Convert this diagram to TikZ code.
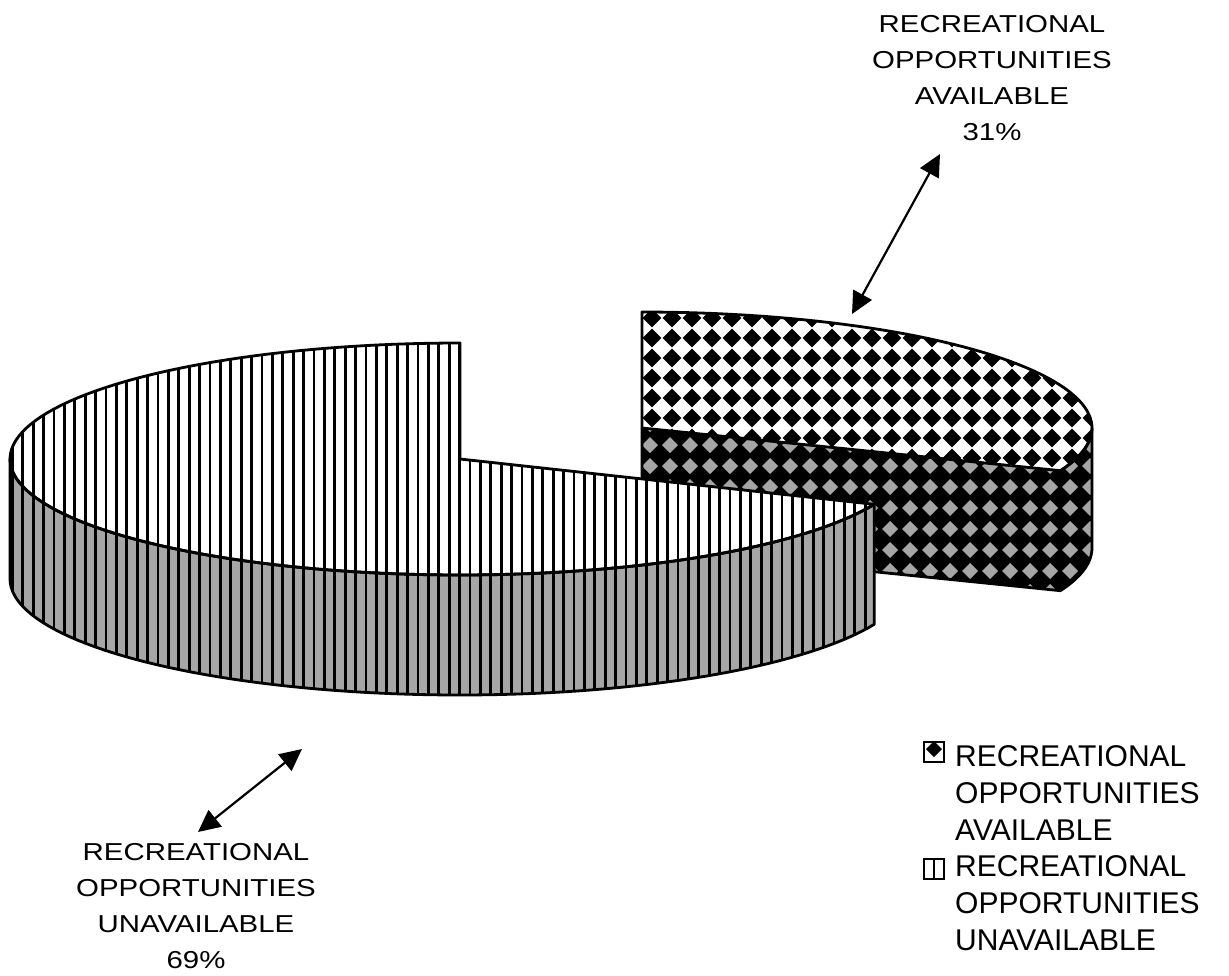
\documentclass[tikz,border=0pt]{standalone}
\usepackage{fontspec}
\setmainfont{Liberation Sans}
\usetikzlibrary{arrows.meta}

% pie geometry, in image pixels (y runs downwards)
\newcommand{\bigx}{460}   % centre of the 69% slice
\newcommand{\bigy}{459}
\newcommand{\smlx}{642}   % centre of the pulled-out 31% slice
\newcommand{\smly}{428}
\newcommand{\pierx}{450}
\newcommand{\piery}{116}
\newcommand{\pieh}{120}

\begin{document}
\begin{tikzpicture}[
    x=1pt, y=-1pt,
    outline/.style={draw=black, line width=2.8pt, line join=round},
    stripe/.style={draw=black, line width=2.8pt},
    pctlabel/.style={align=center, inner sep=0pt, xscale=1.2,
        font=\fontsize{24.5}{36}\selectfont},
    legendtext/.style={align=left, inner sep=0pt, anchor=base west,
        font=\fontsize{30}{36.7}\selectfont},
    legendbox/.style={draw, line width=2pt, minimum size=20pt,
        inner sep=0pt, fill=white},
    keyavail/.style={legendbox, path picture={
        \fill[black] ([yshift=3pt]path picture bounding box.center)
            +(-8,0) -- +(0,-8) -- +(8,0) -- +(0,8) -- cycle;}},
    keyunavail/.style={legendbox, path picture={
        \draw[black, line width=2pt] (path picture bounding box.north)
            -- (path picture bounding box.south);}},
    leader/.style={{Triangle[length=22pt,width=21pt]}-{Triangle[length=22pt,width=21pt]},
        line width=2.2pt},
]
\useasboundingbox (0,0) rectangle (1229,975);

% 31% slice: top face
\begin{scope}
  \clip (\smlx,\smly) -- plot[domain=-90:21.6, samples=60]
      ({\smlx+\pierx*cos(\x)},{\smly+\piery*sin(\x)}) -- cycle;
  \fill[white] (600,290) rectangle (1110,500);
  \foreach \i in {-1,...,23}
    \foreach \j in {-1,...,9}
      \fill ({652+20*\i},{318+20*\j}) ++(-9.3,0) -- ++(9.3,-9.3)
          -- ++(9.3,9.3) -- ++(-9.3,9.3) -- cycle;
\end{scope}

% 31% slice: cut face and rim
\begin{scope}
  \clip (\smlx,\smly) -- plot[domain=21.6:0, samples=20]
      ({\smlx+\pierx*cos(\x)},{\smly+\piery*sin(\x)})
    -- plot[domain=0:21.6, samples=20]
      ({\smlx+\pierx*cos(\x)},{\smly+\pieh+\piery*sin(\x)})
    -- (\smlx,\smly+\pieh) -- cycle;
  \fill[black] (600,400) rectangle (1110,620);
  \foreach \i in {-1,...,23}
    \foreach \j in {-1,...,8}
      \fill[black!35] ({650+20*\i},{445+21*\j}) ++(-8,0) -- ++(8,-8)
          -- ++(8,8) -- ++(-8,8) -- cycle;
\end{scope}

\draw[outline] (\smlx,\smly) -- plot[domain=-90:21.6, samples=60]
    ({\smlx+\pierx*cos(\x)},{\smly+\piery*sin(\x)}) -- cycle;
\draw[outline] plot[domain=21.6:0, samples=20]
      ({\smlx+\pierx*cos(\x)},{\smly+\piery*sin(\x)})
    -- plot[domain=0:21.6, samples=20]
      ({\smlx+\pierx*cos(\x)},{\smly+\pieh+\piery*sin(\x)})
    -- (\smlx,\smly+\pieh) -- (\smlx,\smly);
\draw[outline] ({\smlx+\pierx*cos(21.6)},{\smly+\piery*sin(21.6)})
    -- ++(0,\pieh);

% 69% slice: rim
\begin{scope}
  \clip plot[domain=23:180, samples=80]
      ({\bigx+\pierx*cos(\x)},{\bigy+\piery*sin(\x)})
    -- plot[domain=180:23, samples=80]
      ({\bigx+\pierx*cos(\x)},{\bigy+\pieh+\piery*sin(\x)}) -- cycle;
  \fill[black!35] (0,440) rectangle (900,720);
  \foreach \sx in {12.4,22.8,...,890}
    \draw[stripe] (\sx,440) -- (\sx,720);
\end{scope}

% 69% slice: top face
\begin{scope}
  \clip (\bigx,\bigy) -- plot[domain=23:270, samples=120]
      ({\bigx+\pierx*cos(\x)},{\bigy+\piery*sin(\x)}) -- cycle;
  \fill[white] (0,330) rectangle (900,590);
  \foreach \sx in {12.4,22.8,...,890}
    \draw[stripe] (\sx,330) -- (\sx,590);
\end{scope}

\draw[outline] plot[domain=23:180, samples=80]
      ({\bigx+\pierx*cos(\x)},{\bigy+\piery*sin(\x)})
    -- plot[domain=180:23, samples=80]
      ({\bigx+\pierx*cos(\x)},{\bigy+\pieh+\piery*sin(\x)}) -- cycle;
\draw[outline] (\bigx,\bigy) -- plot[domain=23:270, samples=120]
    ({\bigx+\pierx*cos(\x)},{\bigy+\piery*sin(\x)}) -- cycle;

% labels with leader arrows
\node[pctlabel, anchor=base] (lblAvail) at (992,140)
    {RECREATIONAL\\OPPORTUNITIES\\AVAILABLE\\31\%};
\node[pctlabel, anchor=base] (lblUnavail) at (196,968)
    {RECREATIONAL\\OPPORTUNITIES\\UNAVAILABLE\\69\%};

\coordinate (availTop) at (940,154);
\coordinate (availPie) at (852,314);
\coordinate (unavailPie) at (302,749);
\coordinate (unavailLow) at (198,832);
\draw[leader] (availTop) -- (availPie);
\draw[leader] (unavailPie) -- (unavailLow);

% legend
\node[keyavail] (keyAvail) at (934,752) {};
\node[legendtext] (legAvail) at (955,840)
    {RECREATIONAL\\OPPORTUNITIES\\AVAILABLE};
\node[keyunavail] (keyUnavail) at (934,869) {};
\node[legendtext] (legUnavail) at (955,950)
    {RECREATIONAL\\OPPORTUNITIES\\UNAVAILABLE};
\end{tikzpicture}
\end{document}
